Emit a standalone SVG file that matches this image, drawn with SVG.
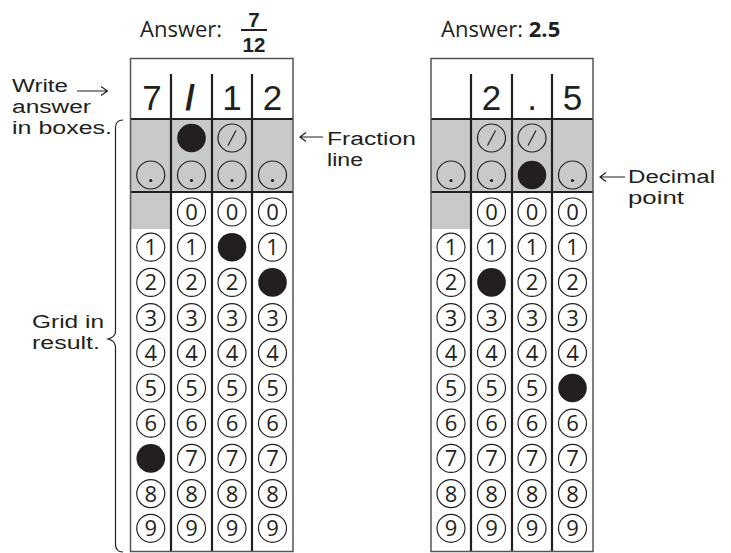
<svg xmlns="http://www.w3.org/2000/svg" width="731" height="553" viewBox="0 0 731 553">
<style>
.lbl{font-family:"Liberation Sans",Arial,sans-serif;font-size:18.8px;fill:#231f20}
.ttl{font-family:"Open Sans","Liberation Sans",sans-serif;font-size:22px;fill:#231f20}
.frac{font-family:"Liberation Sans",Arial,sans-serif;font-size:20.5px;font-weight:bold;fill:#231f20;text-anchor:middle}
.b{font-weight:bold}
.ans{font-family:"Liberation Sans",Arial,sans-serif;font-size:35px;fill:#231f20;text-anchor:middle}
.bt{font-family:"Open Sans","Liberation Sans",sans-serif;font-size:22px;fill:#231f20;text-anchor:middle}
.bub{fill:none;stroke:#231f20;stroke-width:1.2}
.fill{fill:#231f20}
.grey{fill:#c8c9cb}
.outer{fill:none;stroke:#555;stroke-width:1.5}
.div{stroke:#231f20;stroke-width:2.2}
.thin{fill:none;stroke:#231f20;stroke-width:1.2}
.dot{fill:#231f20}
</style>
<defs>
<g id="dotb"><circle class="bub" r="14"/><circle class="dot" cy="5.5" r="1.6"/></g>
<g id="slb"><circle class="bub" r="14"/><line class="thin" x1="4" y1="-7.5" x2="-4" y2="7.5"/></g>
<circle id="fb" class="fill" r="14.3"/>
</defs>

<g id="title-left">
<text class="ttl" x="140" y="37">Answer:</text>
<text class="frac" x="254" y="27">7</text>
<line x1="241" y1="30" x2="267" y2="30" stroke="#231f20" stroke-width="2"/>
<text class="frac" x="254" y="51.5">12</text>
</g>
<g id="title-right">
<text class="ttl" x="441" y="37">Answer: <tspan class="b">2.5</tspan></text>
</g>

<g id="label-write">
<text class="lbl" x="12" y="92" textLength="56" lengthAdjust="spacingAndGlyphs">Write</text>
<text class="lbl" x="12" y="113" textLength="79" lengthAdjust="spacingAndGlyphs">answer</text>
<text class="lbl" x="12" y="134" textLength="100" lengthAdjust="spacingAndGlyphs">in boxes.</text>
</g>
<g id="label-grid">
<text class="lbl" x="32" y="328" textLength="72" lengthAdjust="spacingAndGlyphs">Grid in</text>
<text class="lbl" x="32" y="349" textLength="68" lengthAdjust="spacingAndGlyphs">result.</text>
</g>
<g id="label-fraction">
<text class="lbl" x="327" y="145" textLength="89" lengthAdjust="spacingAndGlyphs">Fraction</text>
<text class="lbl" x="327" y="166" textLength="36" lengthAdjust="spacingAndGlyphs">line</text>
</g>
<g id="label-decimal">
<text class="lbl" x="628" y="183" textLength="87" lengthAdjust="spacingAndGlyphs">Decimal</text>
<text class="lbl" x="628" y="204" textLength="56" lengthAdjust="spacingAndGlyphs">point</text>
</g>

<g id="connectors">
<path class="thin" d="M77,91 H107 M101,86.5 L107.5,91 L101,95.5"/>
<path class="thin" d="M323,137 H300.5 M306,132.5 L300,137 L306,141.5"/>
<path class="thin" d="M625,177 H600.5 M606,172.5 L600,177 L606,181.5"/>
<path class="thin" d="M123,120 Q115.5,120 115.5,128 L115.5,331 Q115.5,337 108,339 Q115.5,341 115.5,347 L115.5,544 Q115.5,552 123,552"/>
</g>

<g id="grid-left">
<rect x="130.5" y="58.5" width="162.5" height="493" fill="#fff"/>
<rect class="grey" x="130.5" y="119" width="162.5" height="73"/>
<rect class="grey" x="130.5" y="192" width="40.5" height="37"/>
<line class="div" x1="171" y1="74" x2="171" y2="552"/>
<line class="div" x1="212" y1="74" x2="212" y2="552"/>
<line class="div" x1="252" y1="74" x2="252" y2="552"/>
<line class="div" x1="130.5" y1="119" x2="293" y2="119"/>
<line class="div" x1="130.5" y1="192" x2="293" y2="192"/>
<rect class="outer" x="130.5" y="58.5" width="162.5" height="493"/>
<text class="ans" x="152" y="110">7</text>
<text class="ans b" x="190" y="110" font-size="30">/</text>
<text class="ans" x="232" y="110">1</text>
<text class="ans" x="272.5" y="110">2</text>
<use href="#fb" x="191.5" y="138"/>
<use href="#slb" x="232" y="138"/>
<use href="#dotb" x="150.75" y="175"/>
<use href="#dotb" x="191.5" y="175"/>
<use href="#dotb" x="232" y="175"/>
<use href="#dotb" x="272.5" y="175"/>
<g>
<circle class="bub" cx="191.5" cy="212" r="14"/><text class="bt" x="191.5" y="220">0</text>
<circle class="bub" cx="232" cy="212" r="14"/><text class="bt" x="232" y="220">0</text>
<circle class="bub" cx="272.5" cy="212" r="14"/><text class="bt" x="272.5" y="220">0</text>
<circle class="bub" cx="150.75" cy="247.2" r="14"/><text class="bt" x="150.75" y="255.2">1</text>
<circle class="bub" cx="191.5" cy="247.2" r="14"/><text class="bt" x="191.5" y="255.2">1</text>
<use href="#fb" x="232" y="247.2"/>
<circle class="bub" cx="272.5" cy="247.2" r="14"/><text class="bt" x="272.5" y="255.2">1</text>
<circle class="bub" cx="150.75" cy="282.4" r="14"/><text class="bt" x="150.75" y="290.4">2</text>
<circle class="bub" cx="191.5" cy="282.4" r="14"/><text class="bt" x="191.5" y="290.4">2</text>
<circle class="bub" cx="232" cy="282.4" r="14"/><text class="bt" x="232" y="290.4">2</text>
<use href="#fb" x="272.5" y="282.4"/>
<circle class="bub" cx="150.75" cy="317.6" r="14"/><text class="bt" x="150.75" y="325.6">3</text>
<circle class="bub" cx="191.5" cy="317.6" r="14"/><text class="bt" x="191.5" y="325.6">3</text>
<circle class="bub" cx="232" cy="317.6" r="14"/><text class="bt" x="232" y="325.6">3</text>
<circle class="bub" cx="272.5" cy="317.6" r="14"/><text class="bt" x="272.5" y="325.6">3</text>
<circle class="bub" cx="150.75" cy="352.8" r="14"/><text class="bt" x="150.75" y="360.8">4</text>
<circle class="bub" cx="191.5" cy="352.8" r="14"/><text class="bt" x="191.5" y="360.8">4</text>
<circle class="bub" cx="232" cy="352.8" r="14"/><text class="bt" x="232" y="360.8">4</text>
<circle class="bub" cx="272.5" cy="352.8" r="14"/><text class="bt" x="272.5" y="360.8">4</text>
<circle class="bub" cx="150.75" cy="388" r="14"/><text class="bt" x="150.75" y="396">5</text>
<circle class="bub" cx="191.5" cy="388" r="14"/><text class="bt" x="191.5" y="396">5</text>
<circle class="bub" cx="232" cy="388" r="14"/><text class="bt" x="232" y="396">5</text>
<circle class="bub" cx="272.5" cy="388" r="14"/><text class="bt" x="272.5" y="396">5</text>
<circle class="bub" cx="150.75" cy="423.2" r="14"/><text class="bt" x="150.75" y="431.2">6</text>
<circle class="bub" cx="191.5" cy="423.2" r="14"/><text class="bt" x="191.5" y="431.2">6</text>
<circle class="bub" cx="232" cy="423.2" r="14"/><text class="bt" x="232" y="431.2">6</text>
<circle class="bub" cx="272.5" cy="423.2" r="14"/><text class="bt" x="272.5" y="431.2">6</text>
<use href="#fb" x="150.75" y="458.4"/>
<circle class="bub" cx="191.5" cy="458.4" r="14"/><text class="bt" x="191.5" y="466.4">7</text>
<circle class="bub" cx="232" cy="458.4" r="14"/><text class="bt" x="232" y="466.4">7</text>
<circle class="bub" cx="272.5" cy="458.4" r="14"/><text class="bt" x="272.5" y="466.4">7</text>
<circle class="bub" cx="150.75" cy="493.6" r="14"/><text class="bt" x="150.75" y="501.6">8</text>
<circle class="bub" cx="191.5" cy="493.6" r="14"/><text class="bt" x="191.5" y="501.6">8</text>
<circle class="bub" cx="232" cy="493.6" r="14"/><text class="bt" x="232" y="501.6">8</text>
<circle class="bub" cx="272.5" cy="493.6" r="14"/><text class="bt" x="272.5" y="501.6">8</text>
<circle class="bub" cx="150.75" cy="528.3" r="14"/><text class="bt" x="150.75" y="536.3">9</text>
<circle class="bub" cx="191.5" cy="528.3" r="14"/><text class="bt" x="191.5" y="536.3">9</text>
<circle class="bub" cx="232" cy="528.3" r="14"/><text class="bt" x="232" y="536.3">9</text>
<circle class="bub" cx="272.5" cy="528.3" r="14"/><text class="bt" x="272.5" y="536.3">9</text>
</g>
</g>

<g id="grid-right">
<rect x="431" y="58.5" width="162" height="493" fill="#fff"/>
<rect class="grey" x="431" y="119" width="162" height="73"/>
<rect class="grey" x="431" y="192" width="40" height="37"/>
<line class="div" x1="471" y1="74" x2="471" y2="552"/>
<line class="div" x1="512" y1="74" x2="512" y2="552"/>
<line class="div" x1="552" y1="74" x2="552" y2="552"/>
<line class="div" x1="431" y1="119" x2="593" y2="119"/>
<line class="div" x1="431" y1="192" x2="593" y2="192"/>
<rect class="outer" x="431" y="58.5" width="162" height="493"/>
<text class="ans" x="491.5" y="110">2</text>
<text class="ans" x="532" y="110">.</text>
<text class="ans" x="572.5" y="110">5</text>
<use href="#slb" x="491.5" y="138"/>
<use href="#slb" x="532" y="138"/>
<use href="#dotb" x="451" y="175"/>
<use href="#dotb" x="491.5" y="175"/>
<use href="#fb" x="532" y="175"/>
<use href="#dotb" x="572.5" y="175"/>
<g>
<circle class="bub" cx="491.5" cy="212" r="14"/><text class="bt" x="491.5" y="220">0</text>
<circle class="bub" cx="532" cy="212" r="14"/><text class="bt" x="532" y="220">0</text>
<circle class="bub" cx="572.5" cy="212" r="14"/><text class="bt" x="572.5" y="220">0</text>
<circle class="bub" cx="451" cy="247.2" r="14"/><text class="bt" x="451" y="255.2">1</text>
<circle class="bub" cx="491.5" cy="247.2" r="14"/><text class="bt" x="491.5" y="255.2">1</text>
<circle class="bub" cx="532" cy="247.2" r="14"/><text class="bt" x="532" y="255.2">1</text>
<circle class="bub" cx="572.5" cy="247.2" r="14"/><text class="bt" x="572.5" y="255.2">1</text>
<circle class="bub" cx="451" cy="282.4" r="14"/><text class="bt" x="451" y="290.4">2</text>
<use href="#fb" x="491.5" y="282.4"/>
<circle class="bub" cx="532" cy="282.4" r="14"/><text class="bt" x="532" y="290.4">2</text>
<circle class="bub" cx="572.5" cy="282.4" r="14"/><text class="bt" x="572.5" y="290.4">2</text>
<circle class="bub" cx="451" cy="317.6" r="14"/><text class="bt" x="451" y="325.6">3</text>
<circle class="bub" cx="491.5" cy="317.6" r="14"/><text class="bt" x="491.5" y="325.6">3</text>
<circle class="bub" cx="532" cy="317.6" r="14"/><text class="bt" x="532" y="325.6">3</text>
<circle class="bub" cx="572.5" cy="317.6" r="14"/><text class="bt" x="572.5" y="325.6">3</text>
<circle class="bub" cx="451" cy="352.8" r="14"/><text class="bt" x="451" y="360.8">4</text>
<circle class="bub" cx="491.5" cy="352.8" r="14"/><text class="bt" x="491.5" y="360.8">4</text>
<circle class="bub" cx="532" cy="352.8" r="14"/><text class="bt" x="532" y="360.8">4</text>
<circle class="bub" cx="572.5" cy="352.8" r="14"/><text class="bt" x="572.5" y="360.8">4</text>
<circle class="bub" cx="451" cy="388" r="14"/><text class="bt" x="451" y="396">5</text>
<circle class="bub" cx="491.5" cy="388" r="14"/><text class="bt" x="491.5" y="396">5</text>
<circle class="bub" cx="532" cy="388" r="14"/><text class="bt" x="532" y="396">5</text>
<use href="#fb" x="572.5" y="388"/>
<circle class="bub" cx="451" cy="423.2" r="14"/><text class="bt" x="451" y="431.2">6</text>
<circle class="bub" cx="491.5" cy="423.2" r="14"/><text class="bt" x="491.5" y="431.2">6</text>
<circle class="bub" cx="532" cy="423.2" r="14"/><text class="bt" x="532" y="431.2">6</text>
<circle class="bub" cx="572.5" cy="423.2" r="14"/><text class="bt" x="572.5" y="431.2">6</text>
<circle class="bub" cx="451" cy="458.4" r="14"/><text class="bt" x="451" y="466.4">7</text>
<circle class="bub" cx="491.5" cy="458.4" r="14"/><text class="bt" x="491.5" y="466.4">7</text>
<circle class="bub" cx="532" cy="458.4" r="14"/><text class="bt" x="532" y="466.4">7</text>
<circle class="bub" cx="572.5" cy="458.4" r="14"/><text class="bt" x="572.5" y="466.4">7</text>
<circle class="bub" cx="451" cy="493.6" r="14"/><text class="bt" x="451" y="501.6">8</text>
<circle class="bub" cx="491.5" cy="493.6" r="14"/><text class="bt" x="491.5" y="501.6">8</text>
<circle class="bub" cx="532" cy="493.6" r="14"/><text class="bt" x="532" y="501.6">8</text>
<circle class="bub" cx="572.5" cy="493.6" r="14"/><text class="bt" x="572.5" y="501.6">8</text>
<circle class="bub" cx="451" cy="528.3" r="14"/><text class="bt" x="451" y="536.3">9</text>
<circle class="bub" cx="491.5" cy="528.3" r="14"/><text class="bt" x="491.5" y="536.3">9</text>
<circle class="bub" cx="532" cy="528.3" r="14"/><text class="bt" x="532" y="536.3">9</text>
<circle class="bub" cx="572.5" cy="528.3" r="14"/><text class="bt" x="572.5" y="536.3">9</text>
</g>
</g>
</svg>
